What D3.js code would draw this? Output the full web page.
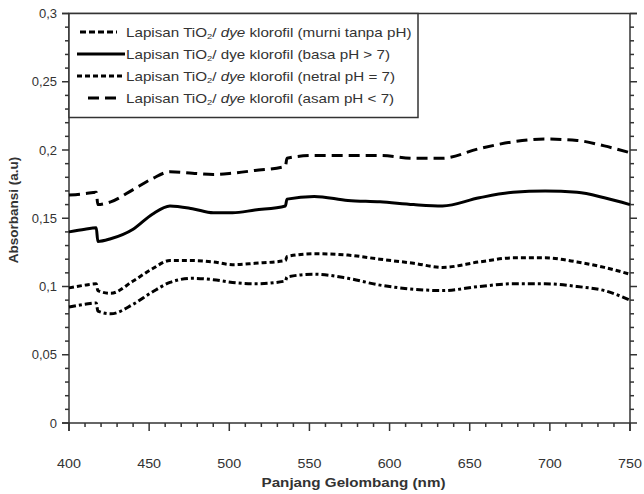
<!DOCTYPE html>
<html>
<head>
<meta charset="utf-8">
<script src="https://cdn.jsdelivr.net/npm/d3@7"></script>
<style>
  body { margin: 0; background: #fff; }
  text { font-family: "Liberation Sans", Arial, sans-serif; }
</style>
</head>
<body>
<script>
// panjang gelombang (nm), titik 417/418 dan 535/536 untuk lompatan
var wl = [400, 410, 417, 418, 426, 440, 452, 463, 477, 490, 502, 516, 535, 536,
          553, 574, 594, 615, 633, 656, 677, 697, 717, 734, 750];

var murni = [0.085, 0.087, 0.088, 0.082, 0.080, 0.087, 0.096, 0.103, 0.106, 0.105, 0.103, 0.102, 0.104, 0.107,
             0.109, 0.106, 0.101, 0.098, 0.097, 0.100, 0.102, 0.102, 0.100, 0.097, 0.090];
var basa = [0.140, 0.142, 0.143, 0.133, 0.135, 0.142, 0.153, 0.159, 0.157, 0.154, 0.154, 0.156, 0.159, 0.164,
            0.166, 0.163, 0.162, 0.160, 0.159, 0.165, 0.169, 0.170, 0.169, 0.165, 0.160];
var netral = [0.099, 0.101, 0.102, 0.097, 0.095, 0.104, 0.113, 0.119, 0.119, 0.118, 0.116, 0.117, 0.119, 0.122,
              0.124, 0.123, 0.120, 0.117, 0.114, 0.118, 0.121, 0.121, 0.118, 0.114, 0.109];
var asam = [0.167, 0.168, 0.169, 0.160, 0.162, 0.171, 0.179, 0.184, 0.183, 0.182, 0.183, 0.185, 0.188, 0.194,
            0.196, 0.196, 0.196, 0.194, 0.194, 0.201, 0.206, 0.208, 0.207, 0.203, 0.198];

var labels = ["(murni tanpa pH)", "(basa pH > 7)", "(netral pH = 7)", "(asam pH < 7)"];
var xTicks = [400, 450, 500, 550, 600, 650, 700, 750];
var yTicks = [0, 0.05, 0.1, 0.15, 0.2, 0.25, 0.3];

var series = [
  {name: labels[0], values: murni, dash: "7,3,3,3", italic: true},
  {name: labels[1], values: basa, dash: null, italic: false},
  {name: labels[2], values: netral, dash: "5,3", italic: true},
  {name: labels[3], values: asam, dash: "11,6", italic: true}
];

var W = 644, H = 494;
var pL = 69, pR = 630, pT = 13.5, pB = 423;

var svg = d3.select("body").append("svg").attr("width", W).attr("height", H);

var x = d3.scaleLinear().domain([400, 750]).range([pL, pR]);
var y = d3.scaleLinear().domain([0, 0.3]).range([pB, pT]);

var axisColor = "#333";
var fmt = function (d) { return String(d).replace(".", ","); };

// minor ticks
var xMinor = d3.range(400, 751, 10);
var yMinor = d3.range(0, 31).map(function (i) { return i / 100; });

// x axis
var gx = svg.append("g").attr("transform", "translate(0," + pB + ")");
gx.append("line").attr("x1", pL - 7).attr("x2", pR).attr("stroke", axisColor).attr("stroke-width", 1.5);
gx.selectAll(".mn").data(xMinor).enter().append("line")
    .attr("x1", function (d) { return x(d); }).attr("x2", function (d) { return x(d); })
    .attr("y1", 0).attr("y2", function (d) { return d % 50 === 0 ? 8 : 4; })
    .attr("stroke", axisColor).attr("stroke-width", 1.5);
gx.selectAll(".lb").data(xTicks).enter().append("text")
    .attr("transform", function (d) { return "translate(" + x(d) + ",45) scale(1.1,1)"; })
    .attr("text-anchor", "middle").attr("font-size", 13).attr("fill", "#333")
    .text(function (d) { return d; });

// y axis kiri
var gy = svg.append("g");
gy.append("line").attr("x1", pL).attr("x2", pL).attr("y1", pT).attr("y2", pB + 8)
    .attr("stroke", axisColor).attr("stroke-width", 1.5);
gy.selectAll(".mn").data(yMinor).enter().append("line")
    .attr("y1", function (d) { return y(d); }).attr("y2", function (d) { return y(d); })
    .attr("x1", pL).attr("x2", function (d, i) { return i % 5 === 0 ? pL - 7 : pL - 4; })
    .attr("stroke", axisColor).attr("stroke-width", 1.5);
gy.selectAll(".lb").data(yTicks).enter().append("text")
    .attr("x", pL - 12).attr("y", function (d) { return y(d) + 4.5; })
    .attr("text-anchor", "end").attr("font-size", 13).attr("fill", "#333")
    .text(fmt);

// y axis kanan
var gr = svg.append("g");
gr.append("line").attr("x1", pR).attr("x2", pR).attr("y1", pT).attr("y2", pB + 8)
    .attr("stroke", axisColor).attr("stroke-width", 1.5);
gr.selectAll(".mn").data(yMinor).enter().append("line")
    .attr("y1", function (d) { return y(d); }).attr("y2", function (d) { return y(d); })
    .attr("x1", pR).attr("x2", function (d, i) { return i % 5 === 0 ? pR + 7 : pR + 4; })
    .attr("stroke", axisColor).attr("stroke-width", 1.5);

// garis atas
svg.append("line").attr("x1", pL - 7).attr("x2", pR + 7).attr("y1", pT).attr("y2", pT)
    .attr("stroke", axisColor).attr("stroke-width", 1.5);

// judul sumbu
svg.append("text").attr("transform", "translate(" + ((pL + pR) / 2 + 4) + ",487) scale(1.17,1)")
    .attr("text-anchor", "middle").attr("font-size", 13).attr("font-weight", "bold").attr("fill", "#333")
    .text("Panjang Gelombang (nm)");
svg.append("text").attr("transform", "translate(18,210) rotate(-90)")
    .attr("text-anchor", "middle").attr("font-size", 13.5).attr("font-weight", "bold").attr("fill", "#333")
    .text("Absorbansi (a.u)");

// garis data
var line = d3.line()
    .curve(d3.curveMonotoneX)
    .x(function (d) { return x(d[0]); })
    .y(function (d) { return y(d[1]); });

svg.selectAll(".series").data(series).enter().append("path")
    .attr("d", function (s) { return line(wl.map(function (w, i) { return [w, s.values[i]]; })); })
    .attr("fill", "none").attr("stroke", "#000").attr("stroke-width", 3)
    .attr("stroke-dasharray", function (s) { return s.dash; });

// legenda
var lg = svg.append("g");
lg.append("rect").attr("x", pL).attr("y", pT).attr("width", 349).attr("height", 104)
    .attr("fill", "#fff").attr("stroke", axisColor).attr("stroke-width", 1.5);

var rows = lg.selectAll(".row").data(series).enter().append("g")
    .attr("transform", function (d, i) { return "translate(0," + (32 + i * 22) + ")"; });
rows.append("line")
    .attr("x1", function (d, i) { return i === 0 ? 80 : (i === 3 ? 88 : 77); })
    .attr("x2", function (d, i) { return i === 0 ? 117 : (i === 3 ? 121 : 125); })
    .attr("stroke", "#000").attr("stroke-width", 3)
    .attr("stroke-dasharray", function (d, i) { return i === 0 ? "6,3" : d.dash; });
var tx = rows.append("text").attr("transform", "translate(126,5) scale(1.17,1)")
    .attr("font-size", 13).attr("fill", "#333");
tx.append("tspan").text("Lapisan TiO");
tx.append("tspan").attr("font-size", 8).attr("dy", 2).text("2");
tx.append("tspan").attr("dy", -2).text("/ ");
tx.append("tspan").attr("font-style", function (d) { return d.italic ? "italic" : "normal"; }).text("dye");
tx.append("tspan").text(function (d) { return " klorofil " + d.name; });
</script>
</body>
</html>
